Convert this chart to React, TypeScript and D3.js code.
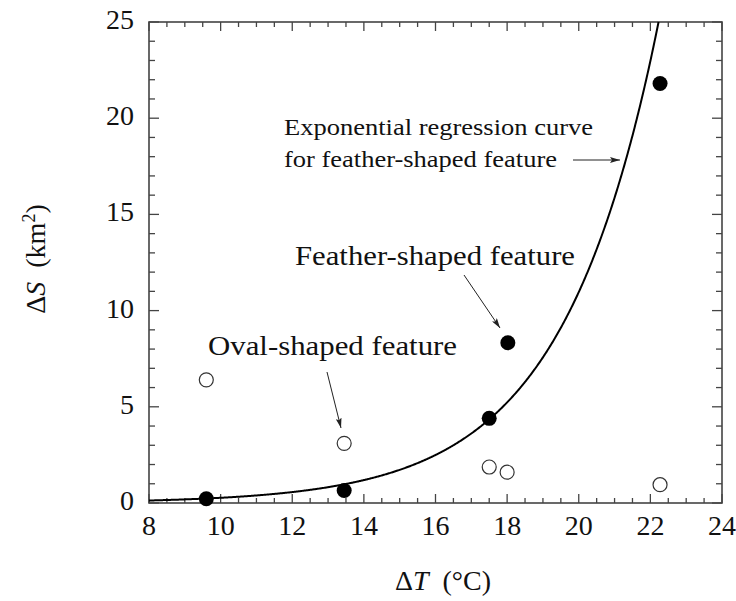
import React from "react";
import * as d3 from "d3";

const filledT = [9.6, 13.45, 17.5, 18.02, 22.27];
const filledS = [0.22, 0.65, 4.4, 8.33, 21.8];
const openT = [9.6, 13.45, 17.5, 18.0, 22.27];
const openS = [6.4, 3.1, 1.87, 1.6, 0.95];
const xTicks = [8, 10, 12, 14, 16, 18, 20, 22, 24];
const yTicks = [0, 5, 10, 15, 20, 25];
const regA = 0.0067;
const regB = 0.37;

const W = 736, H = 601;
const FONT = "Liberation Serif, Times New Roman, Times, serif";

export default function App() {
  const x = d3.scaleLinear().domain([8, 24]).range([149, 722]);
  const y = d3.scaleLinear().domain([0, 25]).range([503, 22]);
  const [x0, x1] = x.range();
  const [y0, y1] = y.range();

  const xEnd = Math.log(25 / regA) / regB;
  const curvePts: [number, number][] = d3.range(8, xEnd, 0.02).map((t) => [t, regA * Math.exp(regB * t)]);
  curvePts.push([xEnd, 25]);
  const line = d3.line<[number, number]>().x((d) => x(d[0])).y((d) => y(d[1]));

  const xMinor = d3.range(8, 24.001, 0.5);
  const yMinor = d3.range(0, 25.001, 1);
  const axisColor = "#444";

  return (
    <svg width={W} height={H} style={{ position: "absolute", left: 0, top: 0, background: "#fff", fontFamily: FONT }}>
      <defs>
        <marker id="ah" viewBox="0 0 10 6" refX="10" refY="3" markerWidth="10" markerHeight="6" markerUnits="userSpaceOnUse" orient="auto">
          <path d="M0,0 L10,3 L0,6 L2,3 Z" fill="#222" />
        </marker>
      </defs>
      <rect x={0} y={0} width={W} height={H} fill="#fff" />
      {xMinor.map((t, i) => {
        const major = Math.abs(t / 2 - Math.round(t / 2)) < 1e-6;
        const len = major ? 9 : 5;
        return (
          <g key={"xt" + i} stroke={axisColor} strokeWidth={1.3}>
            <line x1={x(t)} x2={x(t)} y1={y0} y2={y0 - len} />
            <line x1={x(t)} x2={x(t)} y1={y1} y2={y1 + len} />
          </g>
        );
      })}
      {yMinor.map((s, i) => {
        const major = s % 5 === 0;
        const len = major ? 10 : 6;
        return (
          <g key={"yt" + i} stroke={axisColor} strokeWidth={1.3}>
            <line x1={x0} x2={x0 + len} y1={y(s)} y2={y(s)} />
            <line x1={x1} x2={x1 - len} y1={y(s)} y2={y(s)} />
          </g>
        );
      })}
      <rect x={x0} y={y1} width={x1 - x0} height={y0 - y1} fill="none" stroke={axisColor} strokeWidth={1.6} />
      {xTicks.map((t) => (
        <text key={"xl" + t} x={x(t)} y={535} textAnchor="middle" fontSize={28} fill="#111" style={{ fontFamily: FONT }}>{t}</text>
      ))}
      {yTicks.map((s) => (
        <text key={"yl" + s} x={134} y={y(s) + 7} textAnchor="end" fontSize={28} fill="#111" style={{ fontFamily: FONT }}>{s}</text>
      ))}
      <text x={443} y={590} textAnchor="middle" fontSize={28} fill="#111" style={{ fontFamily: FONT }}>
        Δ<tspan fontStyle="italic">T</tspan>{"\u00a0\u00a0(°C)"}
      </text>
      <text transform="translate(45,259) rotate(-90)" textAnchor="middle" fontSize={28} fill="#111" style={{ fontFamily: FONT }}>
        Δ<tspan fontStyle="italic">S</tspan>{"\u00a0\u00a0(km"}
        <tspan dy={-10} fontSize={18}>2</tspan>
        <tspan dy={10}>)</tspan>
      </text>
      <path d={line(curvePts) || ""} fill="none" stroke="#000" strokeWidth={2} />
      {openT.map((t, i) => (
        <circle key={"o" + i} cx={x(t)} cy={y(openS[i])} r={7} fill="#fff" stroke="#333" strokeWidth={1.2} />
      ))}
      {filledT.map((t, i) => (
        <circle key={"f" + i} cx={x(t)} cy={y(filledS[i])} r={7.5} fill="#000" />
      ))}
      <text x={284} y={135} fontSize={23} textLength={309} lengthAdjust="spacingAndGlyphs" fill="#111" style={{ fontFamily: FONT }}>Exponential regression curve</text>
      <text x={284} y={167} fontSize={23} textLength={273} lengthAdjust="spacingAndGlyphs" fill="#111" style={{ fontFamily: FONT }}>for feather-shaped feature</text>
      <line x1={573} y1={160} x2={620} y2={160} stroke="#222" strokeWidth={1} markerEnd="url(#ah)" />
      <text x={295} y={265} fontSize={27} textLength={280} lengthAdjust="spacingAndGlyphs" fill="#111" style={{ fontFamily: FONT }}>Feather-shaped feature</text>
      <line x1={464} y1={275} x2={500} y2={328} stroke="#222" strokeWidth={1} markerEnd="url(#ah)" />
      <text x={208} y={355} fontSize={27} textLength={249} lengthAdjust="spacingAndGlyphs" fill="#111" style={{ fontFamily: FONT }}>Oval-shaped feature</text>
      <line x1={327} y1={372} x2={341} y2={428} stroke="#222" strokeWidth={1} markerEnd="url(#ah)" />
    </svg>
  );
}
